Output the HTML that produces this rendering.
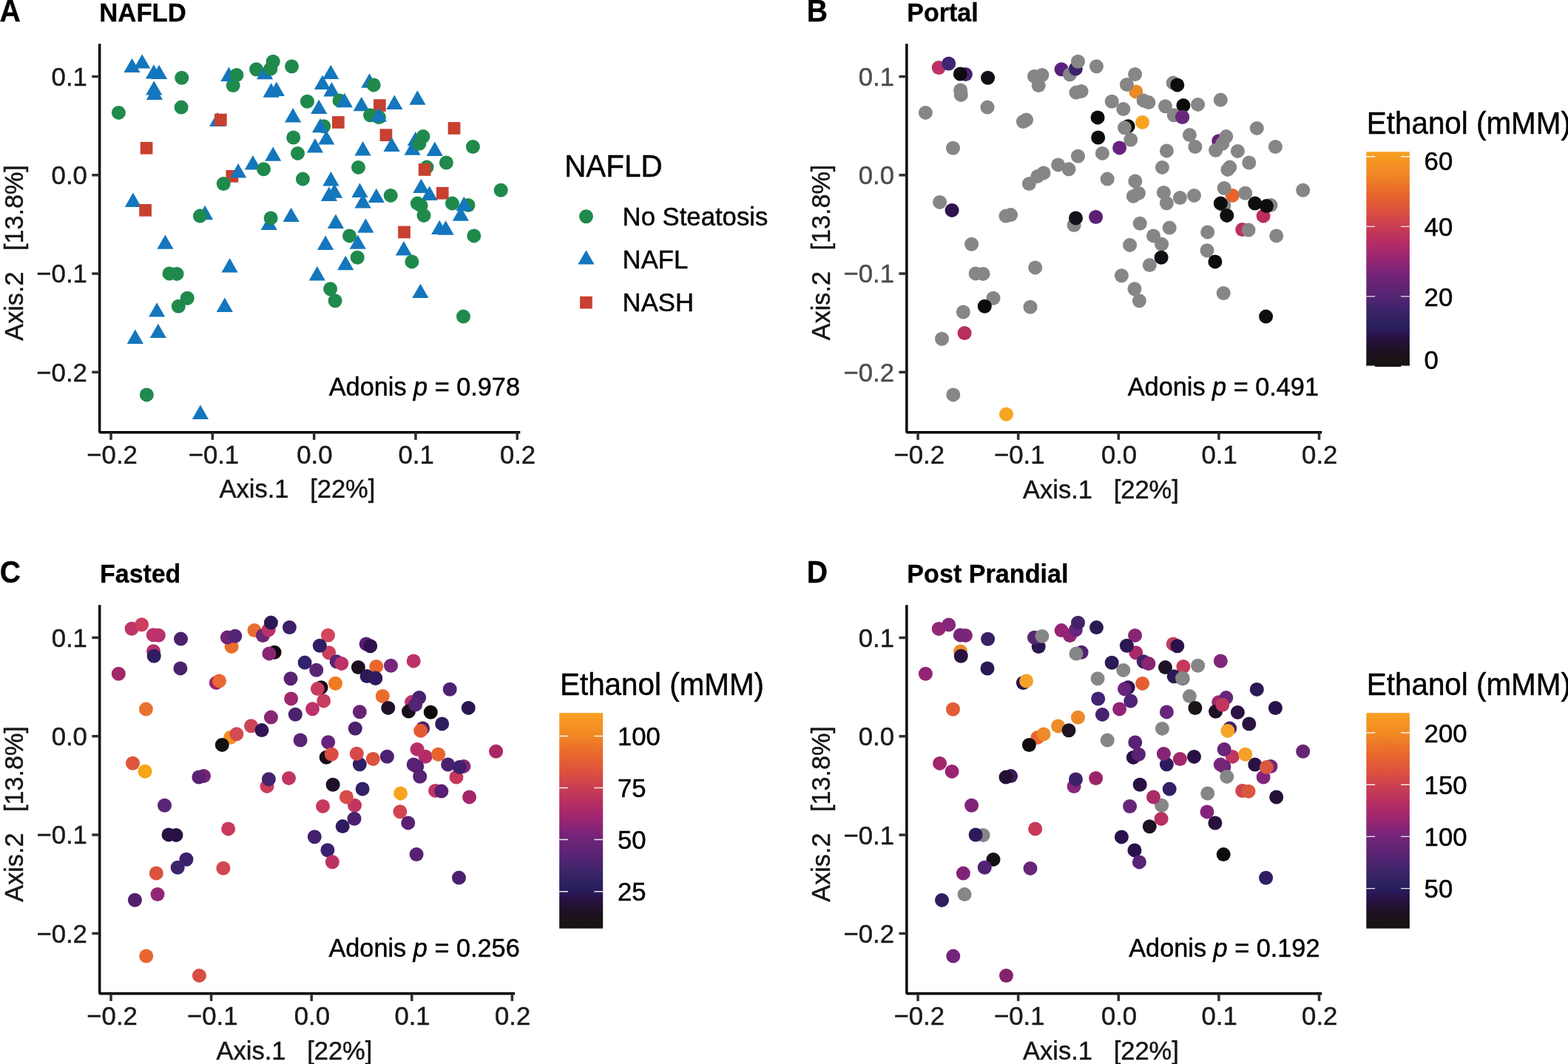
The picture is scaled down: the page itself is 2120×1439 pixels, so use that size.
<!DOCTYPE html>
<html lang="en">
<head>
<meta charset="utf-8">
<title>PCoA of ethanol concentrations and NAFLD status</title>
<style>
html,body{margin:0;padding:0;background:#fff;}
body{width:2120px;height:1439px;overflow:hidden;}
svg{display:block;}
text{font-family:"Liberation Sans","DejaVu Sans",sans-serif;}
</style>
</head>
<body>
<svg width="2120" height="1439" viewBox="0 0 2120 1439" font-family='"Liberation Sans", "DejaVu Sans", sans-serif'>
<defs><linearGradient id="inf" x1="0" y1="1" x2="0" y2="0">
<stop offset="0" stop-color="#151214"/>
<stop offset="0.041" stop-color="#1a1218"/>
<stop offset="0.085" stop-color="#1f1228"/>
<stop offset="0.137" stop-color="#2a1045"/>
<stop offset="0.17" stop-color="#2a1a58"/>
<stop offset="0.196" stop-color="#2a2060"/>
<stop offset="0.256" stop-color="#3a2468"/>
<stop offset="0.33" stop-color="#552472"/>
<stop offset="0.411" stop-color="#6e2478"/>
<stop offset="0.441" stop-color="#7a2478"/>
<stop offset="0.515" stop-color="#9e2670"/>
<stop offset="0.589" stop-color="#b82e62"/>
<stop offset="0.652" stop-color="#c83e52"/>
<stop offset="0.722" stop-color="#dc5040"/>
<stop offset="0.804" stop-color="#e8662c"/>
<stop offset="0.893" stop-color="#f08624"/>
<stop offset="1" stop-color="#f8a022"/>
</linearGradient></defs>
<rect width="2120" height="1439" fill="#fff"/>
<path d="M178.5 78.7 L189.6 98.1 H167.4 Z" fill="#1476bc"/>
<path d="M192.1 73.2 L203.2 92.6 H181.0 Z" fill="#1476bc"/>
<path d="M215.1 87.7 L226.2 107.1 H204.0 Z" fill="#1476bc"/>
<path d="M207.9 87.2 L219.0 106.6 H196.8 Z" fill="#1476bc"/>
<circle cx="245.7" cy="105.3" r="9.5" fill="#1f8a4c"/>
<path d="M208.2 109.2 L219.3 128.6 H197.1 Z" fill="#1476bc"/>
<path d="M208.9 115.6 L220.0 135.0 H197.8 Z" fill="#1476bc"/>
<circle cx="245.1" cy="145.1" r="9.5" fill="#1f8a4c"/>
<circle cx="160.4" cy="152.4" r="9.5" fill="#1f8a4c"/>
<circle cx="315.2" cy="115.6" r="9.5" fill="#1f8a4c"/>
<path d="M309.4 90.5 L320.5 109.9 H298.3 Z" fill="#1476bc"/>
<circle cx="319.9" cy="101.5" r="9.5" fill="#1f8a4c"/>
<circle cx="346.5" cy="93.7" r="9.5" fill="#1f8a4c"/>
<path d="M358.0 87.9 L369.1 107.3 H346.9 Z" fill="#1476bc"/>
<circle cx="365.9" cy="93.0" r="9.5" fill="#1f8a4c"/>
<circle cx="369.2" cy="83.3" r="9.5" fill="#1f8a4c"/>
<circle cx="394.5" cy="89.7" r="9.5" fill="#1f8a4c"/>
<path d="M373.8 110.6 L384.9 130.0 H362.7 Z" fill="#1476bc"/>
<path d="M366.6 112.3 L377.7 131.7 H355.5 Z" fill="#1476bc"/>
<circle cx="415.4" cy="137.3" r="9.5" fill="#1f8a4c"/>
<path d="M396.1 146.1 L407.2 165.5 H385.0 Z" fill="#1476bc"/>
<path d="M294.1 151.7 L305.2 171.1 H283.0 Z" fill="#1476bc"/>
<rect x="290.0" y="153.7" width="16.7" height="16.7" fill="#c8402f"/>
<circle cx="396.7" cy="186.0" r="9.5" fill="#1f8a4c"/>
<rect x="189.7" y="191.9" width="16.7" height="16.7" fill="#c8402f"/>
<path d="M369.2 198.4 L380.3 217.8 H358.1 Z" fill="#1476bc"/>
<circle cx="402.5" cy="207.4" r="9.5" fill="#1f8a4c"/>
<path d="M341.9 210.1 L353.0 229.5 H330.8 Z" fill="#1476bc"/>
<circle cx="356.5" cy="228.7" r="9.5" fill="#1f8a4c"/>
<rect x="305.5" y="230.0" width="16.7" height="16.7" fill="#c8402f"/>
<path d="M322.1 221.1 L333.2 240.5 H311.0 Z" fill="#1476bc"/>
<circle cx="302.2" cy="248.5" r="9.5" fill="#1f8a4c"/>
<circle cx="409.4" cy="242.1" r="9.5" fill="#1f8a4c"/>
<path d="M447.2 87.7 L458.3 107.1 H436.1 Z" fill="#1476bc"/>
<path d="M448.4 111.1 L459.5 130.5 H437.3 Z" fill="#1476bc"/>
<path d="M435.9 101.6 L447.0 121.0 H424.8 Z" fill="#1476bc"/>
<path d="M431.2 134.7 L442.3 154.1 H420.1 Z" fill="#1476bc"/>
<circle cx="459.0" cy="135.9" r="9.5" fill="#1f8a4c"/>
<path d="M465.8 125.8 L476.9 145.2 H454.7 Z" fill="#1476bc"/>
<rect x="449.0" y="157.1" width="16.7" height="16.7" fill="#c8402f"/>
<circle cx="437.7" cy="170.8" r="9.5" fill="#1f8a4c"/>
<path d="M433.0 159.9 L444.1 179.3 H421.9 Z" fill="#1476bc"/>
<path d="M441.3 176.2 L452.4 195.6 H430.2 Z" fill="#1476bc"/>
<path d="M426.0 187.1 L437.1 206.5 H414.9 Z" fill="#1476bc"/>
<path d="M499.5 99.3 L510.6 118.7 H488.4 Z" fill="#1476bc"/>
<circle cx="505.2" cy="114.9" r="9.5" fill="#1f8a4c"/>
<path d="M488.7 130.9 L499.8 150.3 H477.6 Z" fill="#1476bc"/>
<rect x="505.0" y="134.2" width="16.7" height="16.7" fill="#c8402f"/>
<path d="M533.3 128.6 L544.4 148.0 H522.2 Z" fill="#1476bc"/>
<path d="M564.4 122.3 L575.5 141.7 H553.3 Z" fill="#1476bc"/>
<circle cx="500.5" cy="155.8" r="9.5" fill="#1f8a4c"/>
<circle cx="512.4" cy="158.6" r="9.5" fill="#1f8a4c"/>
<path d="M511.9 145.4 L523.0 164.8 H500.8 Z" fill="#1476bc"/>
<rect x="513.6" y="174.3" width="16.7" height="16.7" fill="#c8402f"/>
<path d="M529.6 185.7 L540.7 205.1 H518.5 Z" fill="#1476bc"/>
<path d="M490.6 191.1 L501.7 210.5 H479.5 Z" fill="#1476bc"/>
<circle cx="484.5" cy="226.4" r="9.5" fill="#1f8a4c"/>
<path d="M561.8 177.9 L572.9 197.3 H550.7 Z" fill="#1476bc"/>
<path d="M557.6 190.4 L568.7 209.8 H546.5 Z" fill="#1476bc"/>
<circle cx="572.0" cy="184.6" r="9.5" fill="#1f8a4c"/>
<circle cx="566.9" cy="194.2" r="9.5" fill="#1f8a4c"/>
<path d="M587.8 191.6 L598.9 211.0 H576.7 Z" fill="#1476bc"/>
<rect x="605.7" y="165.1" width="16.7" height="16.7" fill="#c8402f"/>
<circle cx="639.4" cy="198.5" r="9.5" fill="#1f8a4c"/>
<circle cx="603.4" cy="220.0" r="9.5" fill="#1f8a4c"/>
<circle cx="577.0" cy="226.1" r="9.5" fill="#1f8a4c"/>
<rect x="565.8" y="221.1" width="16.7" height="16.7" fill="#c8402f"/>
<path d="M447.4 232.1 L458.5 251.5 H436.3 Z" fill="#1476bc"/>
<path d="M179.9 260.6 L191.0 280.0 H168.8 Z" fill="#1476bc"/>
<rect x="188.2" y="276.0" width="16.7" height="16.7" fill="#c8402f"/>
<path d="M277.1 277.8 L288.2 297.2 H266.0 Z" fill="#1476bc"/>
<circle cx="270.4" cy="292.1" r="9.5" fill="#1f8a4c"/>
<path d="M363.7 291.7 L374.8 311.1 H352.6 Z" fill="#1476bc"/>
<circle cx="366.1" cy="294.9" r="9.5" fill="#1f8a4c"/>
<path d="M393.6 280.7 L404.7 300.1 H382.5 Z" fill="#1476bc"/>
<path d="M223.4 317.4 L234.5 336.8 H212.3 Z" fill="#1476bc"/>
<path d="M310.6 349.1 L321.7 368.5 H299.5 Z" fill="#1476bc"/>
<circle cx="239.1" cy="370.4" r="9.5" fill="#1f8a4c"/>
<circle cx="229.0" cy="369.9" r="9.5" fill="#1f8a4c"/>
<circle cx="253.2" cy="403.3" r="9.5" fill="#1f8a4c"/>
<circle cx="241.3" cy="414.2" r="9.5" fill="#1f8a4c"/>
<path d="M212.1 409.2 L223.2 428.6 H201.0 Z" fill="#1476bc"/>
<path d="M303.8 402.5 L314.9 421.9 H292.7 Z" fill="#1476bc"/>
<path d="M444.9 252.6 L456.0 272.0 H433.8 Z" fill="#1476bc"/>
<path d="M452.1 248.4 L463.2 267.8 H441.0 Z" fill="#1476bc"/>
<path d="M490.6 262.0 L501.7 281.4 H479.5 Z" fill="#1476bc"/>
<path d="M486.5 247.6 L497.6 267.0 H475.4 Z" fill="#1476bc"/>
<path d="M508.8 254.7 L519.9 274.1 H497.7 Z" fill="#1476bc"/>
<circle cx="528.2" cy="264.4" r="9.5" fill="#1f8a4c"/>
<path d="M580.6 251.6 L591.7 271.0 H569.5 Z" fill="#1476bc"/>
<path d="M569.4 241.7 L580.5 261.1 H558.3 Z" fill="#1476bc"/>
<rect x="589.9" y="252.9" width="16.7" height="16.7" fill="#c8402f"/>
<circle cx="569.1" cy="277.9" r="9.5" fill="#1f8a4c"/>
<circle cx="564.4" cy="275.1" r="9.5" fill="#1f8a4c"/>
<circle cx="573.0" cy="291.4" r="9.5" fill="#1f8a4c"/>
<circle cx="611.5" cy="275.1" r="9.5" fill="#1f8a4c"/>
<circle cx="633.0" cy="277.5" r="9.5" fill="#1f8a4c"/>
<path d="M622.9 279.3 L634.0 298.7 H611.8 Z" fill="#1476bc"/>
<path d="M627.3 265.8 L638.4 285.2 H616.2 Z" fill="#1476bc"/>
<circle cx="677.2" cy="257.3" r="9.5" fill="#1f8a4c"/>
<path d="M453.9 289.5 L465.0 308.9 H442.8 Z" fill="#1476bc"/>
<path d="M494.4 295.3 L505.5 314.7 H483.3 Z" fill="#1476bc"/>
<path d="M483.7 317.4 L494.8 336.8 H472.6 Z" fill="#1476bc"/>
<circle cx="472.5" cy="318.9" r="9.5" fill="#1f8a4c"/>
<path d="M440.1 318.6 L451.2 338.0 H429.0 Z" fill="#1476bc"/>
<rect x="538.2" y="305.6" width="16.7" height="16.7" fill="#c8402f"/>
<path d="M594.2 297.7 L605.3 317.1 H583.1 Z" fill="#1476bc"/>
<path d="M602.6 298.3 L613.7 317.7 H591.5 Z" fill="#1476bc"/>
<circle cx="640.8" cy="318.9" r="9.5" fill="#1f8a4c"/>
<path d="M545.9 326.0 L557.0 345.4 H534.8 Z" fill="#1476bc"/>
<circle cx="556.9" cy="353.9" r="9.5" fill="#1f8a4c"/>
<circle cx="483.2" cy="348.3" r="9.5" fill="#1f8a4c"/>
<path d="M467.2 345.8 L478.3 365.2 H456.1 Z" fill="#1476bc"/>
<path d="M428.8 360.0 L439.9 379.4 H417.7 Z" fill="#1476bc"/>
<circle cx="446.6" cy="390.8" r="9.5" fill="#1f8a4c"/>
<circle cx="453.1" cy="406.8" r="9.5" fill="#1f8a4c"/>
<path d="M568.4 383.7 L579.5 403.1 H557.3 Z" fill="#1476bc"/>
<circle cx="626.5" cy="428.1" r="9.5" fill="#1f8a4c"/>
<path d="M213.8 437.7 L224.9 457.1 H202.7 Z" fill="#1476bc"/>
<path d="M182.8 445.5 L193.9 464.9 H171.7 Z" fill="#1476bc"/>
<circle cx="198.3" cy="533.9" r="9.5" fill="#1f8a4c"/>
<path d="M270.9 547.5 L282.0 566.9 H259.8 Z" fill="#1476bc"/>
<path d="M134.65 59.20 V584.65 M134.65 584.65 H703.30" fill="none" stroke="#000" stroke-width="3.45" stroke-linecap="butt"/>
<path d="M132.93 584.65 L134.65 586.38 L134.65 584.65 Z" fill="#000"/>
<line x1="124.25" y1="503.32" x2="134.65" y2="503.32" stroke="#2e2e2e" stroke-width="3.5"/>
<text transform="translate(117.85 515.72) scale(1 1.03)" font-size="34.7" text-anchor="end" font-weight="normal" fill="#1a1a1a" stroke="#1a1a1a" stroke-width="0.45">−0.2</text>
<line x1="124.25" y1="370.06" x2="134.65" y2="370.06" stroke="#2e2e2e" stroke-width="3.5"/>
<text transform="translate(117.85 382.46) scale(1 1.03)" font-size="34.7" text-anchor="end" font-weight="normal" fill="#1a1a1a" stroke="#1a1a1a" stroke-width="0.45">−0.1</text>
<line x1="124.25" y1="236.80" x2="134.65" y2="236.80" stroke="#2e2e2e" stroke-width="3.5"/>
<text transform="translate(117.85 249.20) scale(1 1.03)" font-size="34.7" text-anchor="end" font-weight="normal" fill="#1a1a1a" stroke="#1a1a1a" stroke-width="0.45">0.0</text>
<line x1="124.25" y1="103.54" x2="134.65" y2="103.54" stroke="#2e2e2e" stroke-width="3.5"/>
<text transform="translate(117.85 115.94) scale(1 1.03)" font-size="34.7" text-anchor="end" font-weight="normal" fill="#1a1a1a" stroke="#1a1a1a" stroke-width="0.45">0.1</text>
<line x1="150.00" y1="584.65" x2="150.00" y2="594.85" stroke="#2e2e2e" stroke-width="3.5"/>
<text transform="translate(151.60 627.10) scale(1 1.03)" font-size="34.7" text-anchor="middle" font-weight="normal" fill="#1a1a1a" stroke="#1a1a1a" stroke-width="0.45">−0.2</text>
<line x1="287.32" y1="584.65" x2="287.32" y2="594.85" stroke="#2e2e2e" stroke-width="3.5"/>
<text transform="translate(288.92 627.10) scale(1 1.03)" font-size="34.7" text-anchor="middle" font-weight="normal" fill="#1a1a1a" stroke="#1a1a1a" stroke-width="0.45">−0.1</text>
<line x1="424.65" y1="584.65" x2="424.65" y2="594.85" stroke="#2e2e2e" stroke-width="3.5"/>
<text transform="translate(425.35 627.10) scale(1 1.03)" font-size="34.7" text-anchor="middle" font-weight="normal" fill="#1a1a1a" stroke="#1a1a1a" stroke-width="0.45">0.0</text>
<line x1="561.98" y1="584.65" x2="561.98" y2="594.85" stroke="#2e2e2e" stroke-width="3.5"/>
<text transform="translate(562.68 627.10) scale(1 1.03)" font-size="34.7" text-anchor="middle" font-weight="normal" fill="#1a1a1a" stroke="#1a1a1a" stroke-width="0.45">0.1</text>
<line x1="699.30" y1="584.65" x2="699.30" y2="594.85" stroke="#2e2e2e" stroke-width="3.5"/>
<text transform="translate(700.00 627.10) scale(1 1.03)" font-size="34.7" text-anchor="middle" font-weight="normal" fill="#1a1a1a" stroke="#1a1a1a" stroke-width="0.45">0.2</text>
<circle cx="1269.2" cy="91.5" r="9.5" fill="#ba3168"/>
<circle cx="1282.7" cy="86.0" r="9.5" fill="#3f2672"/>
<circle cx="1305.4" cy="100.5" r="9.5" fill="#49236d"/>
<circle cx="1298.3" cy="100.0" r="9.5" fill="#0d0b10"/>
<circle cx="1335.6" cy="105.3" r="9.5" fill="#121016"/>
<circle cx="1298.6" cy="122.0" r="9.5" fill="#868686"/>
<circle cx="1299.3" cy="128.4" r="9.5" fill="#868686"/>
<circle cx="1335.0" cy="145.1" r="9.5" fill="#868686"/>
<circle cx="1251.4" cy="152.4" r="9.5" fill="#868686"/>
<circle cx="1404.2" cy="115.6" r="9.5" fill="#868686"/>
<circle cx="1398.5" cy="103.3" r="9.5" fill="#868686"/>
<circle cx="1408.9" cy="101.5" r="9.5" fill="#868686"/>
<circle cx="1435.1" cy="93.7" r="9.5" fill="#58217d"/>
<circle cx="1446.5" cy="100.7" r="9.5" fill="#868686"/>
<circle cx="1454.3" cy="93.0" r="9.5" fill="#3a236d"/>
<circle cx="1457.5" cy="83.3" r="9.5" fill="#868686"/>
<circle cx="1482.5" cy="89.7" r="9.5" fill="#868686"/>
<circle cx="1462.1" cy="123.4" r="9.5" fill="#868686"/>
<circle cx="1455.0" cy="125.1" r="9.5" fill="#868686"/>
<circle cx="1503.2" cy="137.3" r="9.5" fill="#868686"/>
<circle cx="1484.1" cy="158.9" r="9.5" fill="#0a0a0a"/>
<circle cx="1383.4" cy="164.5" r="9.5" fill="#868686"/>
<circle cx="1387.6" cy="162.1" r="9.5" fill="#868686"/>
<circle cx="1484.7" cy="186.0" r="9.5" fill="#0c0c0c"/>
<circle cx="1288.5" cy="200.2" r="9.5" fill="#868686"/>
<circle cx="1457.5" cy="211.2" r="9.5" fill="#868686"/>
<circle cx="1490.4" cy="207.4" r="9.5" fill="#868686"/>
<circle cx="1430.6" cy="222.9" r="9.5" fill="#868686"/>
<circle cx="1445.0" cy="228.7" r="9.5" fill="#868686"/>
<circle cx="1402.9" cy="238.4" r="9.5" fill="#868686"/>
<circle cx="1411.0" cy="233.9" r="9.5" fill="#868686"/>
<circle cx="1391.4" cy="248.5" r="9.5" fill="#868686"/>
<circle cx="1497.2" cy="242.1" r="9.5" fill="#868686"/>
<circle cx="1534.6" cy="100.5" r="9.5" fill="#868686"/>
<circle cx="1535.8" cy="123.9" r="9.5" fill="#ec8b26"/>
<circle cx="1523.4" cy="114.4" r="9.5" fill="#868686"/>
<circle cx="1518.8" cy="147.5" r="9.5" fill="#868686"/>
<circle cx="1546.2" cy="135.9" r="9.5" fill="#868686"/>
<circle cx="1552.9" cy="138.6" r="9.5" fill="#868686"/>
<circle cx="1544.6" cy="165.4" r="9.5" fill="#f7a423"/>
<circle cx="1525.2" cy="170.8" r="9.5" fill="#0c0c0c"/>
<circle cx="1520.5" cy="172.7" r="9.5" fill="#868686"/>
<circle cx="1528.7" cy="189.0" r="9.5" fill="#868686"/>
<circle cx="1513.6" cy="199.9" r="9.5" fill="#68227d"/>
<circle cx="1586.2" cy="112.1" r="9.5" fill="#868686"/>
<circle cx="1591.8" cy="114.9" r="9.5" fill="#0c0c0c"/>
<circle cx="1575.5" cy="143.7" r="9.5" fill="#868686"/>
<circle cx="1599.9" cy="142.6" r="9.5" fill="#0a0a0a"/>
<circle cx="1619.6" cy="141.4" r="9.5" fill="#868686"/>
<circle cx="1650.3" cy="135.1" r="9.5" fill="#868686"/>
<circle cx="1587.2" cy="155.8" r="9.5" fill="#868686"/>
<circle cx="1598.9" cy="158.6" r="9.5" fill="#868686"/>
<circle cx="1598.5" cy="158.2" r="9.5" fill="#68267d"/>
<circle cx="1608.4" cy="182.6" r="9.5" fill="#868686"/>
<circle cx="1615.9" cy="198.5" r="9.5" fill="#868686"/>
<circle cx="1577.4" cy="203.9" r="9.5" fill="#868686"/>
<circle cx="1571.4" cy="226.4" r="9.5" fill="#868686"/>
<circle cx="1647.7" cy="190.7" r="9.5" fill="#68227d"/>
<circle cx="1643.6" cy="203.2" r="9.5" fill="#868686"/>
<circle cx="1657.8" cy="184.6" r="9.5" fill="#868686"/>
<circle cx="1652.8" cy="194.2" r="9.5" fill="#868686"/>
<circle cx="1673.4" cy="204.4" r="9.5" fill="#868686"/>
<circle cx="1699.3" cy="173.4" r="9.5" fill="#868686"/>
<circle cx="1724.4" cy="198.5" r="9.5" fill="#868686"/>
<circle cx="1688.8" cy="220.0" r="9.5" fill="#868686"/>
<circle cx="1662.7" cy="226.1" r="9.5" fill="#868686"/>
<circle cx="1659.9" cy="229.4" r="9.5" fill="#868686"/>
<circle cx="1534.8" cy="244.9" r="9.5" fill="#868686"/>
<circle cx="1270.6" cy="273.4" r="9.5" fill="#868686"/>
<circle cx="1287.1" cy="284.4" r="9.5" fill="#2e114e"/>
<circle cx="1366.6" cy="290.6" r="9.5" fill="#868686"/>
<circle cx="1360.0" cy="292.1" r="9.5" fill="#868686"/>
<circle cx="1452.1" cy="304.5" r="9.5" fill="#868686"/>
<circle cx="1454.5" cy="294.9" r="9.5" fill="#14121a"/>
<circle cx="1481.6" cy="293.5" r="9.5" fill="#5a2175"/>
<circle cx="1313.6" cy="330.2" r="9.5" fill="#868686"/>
<circle cx="1399.7" cy="361.9" r="9.5" fill="#868686"/>
<circle cx="1329.1" cy="370.4" r="9.5" fill="#868686"/>
<circle cx="1319.1" cy="369.9" r="9.5" fill="#868686"/>
<circle cx="1343.0" cy="403.3" r="9.5" fill="#868686"/>
<circle cx="1331.3" cy="414.2" r="9.5" fill="#0a0a0a"/>
<circle cx="1302.4" cy="422.0" r="9.5" fill="#868686"/>
<circle cx="1393.0" cy="415.3" r="9.5" fill="#868686"/>
<circle cx="1532.3" cy="265.4" r="9.5" fill="#868686"/>
<circle cx="1539.4" cy="261.2" r="9.5" fill="#868686"/>
<circle cx="1577.4" cy="274.8" r="9.5" fill="#868686"/>
<circle cx="1573.4" cy="260.4" r="9.5" fill="#868686"/>
<circle cx="1595.4" cy="267.5" r="9.5" fill="#868686"/>
<circle cx="1614.5" cy="264.4" r="9.5" fill="#868686"/>
<circle cx="1666.3" cy="264.4" r="9.5" fill="#e9642d"/>
<circle cx="1655.2" cy="254.5" r="9.5" fill="#868686"/>
<circle cx="1683.7" cy="261.3" r="9.5" fill="#868686"/>
<circle cx="1654.9" cy="277.9" r="9.5" fill="#868686"/>
<circle cx="1650.3" cy="275.1" r="9.5" fill="#0c0c0c"/>
<circle cx="1658.8" cy="291.4" r="9.5" fill="#0e0e10"/>
<circle cx="1696.8" cy="275.1" r="9.5" fill="#0e0e10"/>
<circle cx="1718.0" cy="277.5" r="9.5" fill="#868686"/>
<circle cx="1708.1" cy="292.1" r="9.5" fill="#bb2d62"/>
<circle cx="1712.4" cy="278.6" r="9.5" fill="#0c0c0e"/>
<circle cx="1761.7" cy="257.3" r="9.5" fill="#868686"/>
<circle cx="1541.2" cy="302.3" r="9.5" fill="#868686"/>
<circle cx="1581.2" cy="308.1" r="9.5" fill="#868686"/>
<circle cx="1570.6" cy="330.2" r="9.5" fill="#868686"/>
<circle cx="1559.5" cy="318.9" r="9.5" fill="#868686"/>
<circle cx="1527.6" cy="331.4" r="9.5" fill="#868686"/>
<circle cx="1632.7" cy="313.9" r="9.5" fill="#868686"/>
<circle cx="1679.7" cy="310.5" r="9.5" fill="#bf2f5c"/>
<circle cx="1688.0" cy="311.1" r="9.5" fill="#868686"/>
<circle cx="1725.7" cy="318.9" r="9.5" fill="#868686"/>
<circle cx="1632.0" cy="338.8" r="9.5" fill="#868686"/>
<circle cx="1642.9" cy="353.9" r="9.5" fill="#0c0c0e"/>
<circle cx="1570.1" cy="348.3" r="9.5" fill="#121014"/>
<circle cx="1554.3" cy="358.6" r="9.5" fill="#868686"/>
<circle cx="1516.4" cy="372.8" r="9.5" fill="#868686"/>
<circle cx="1534.0" cy="390.8" r="9.5" fill="#868686"/>
<circle cx="1540.4" cy="406.8" r="9.5" fill="#868686"/>
<circle cx="1654.2" cy="396.5" r="9.5" fill="#868686"/>
<circle cx="1711.6" cy="428.1" r="9.5" fill="#0e0e12"/>
<circle cx="1304.1" cy="450.5" r="9.5" fill="#b92e5e"/>
<circle cx="1273.5" cy="458.3" r="9.5" fill="#868686"/>
<circle cx="1288.8" cy="533.9" r="9.5" fill="#868686"/>
<circle cx="1360.5" cy="560.3" r="9.5" fill="#f7a523"/>
<path d="M1225.86 59.20 V584.65 M1225.86 584.65 H1787.20" fill="none" stroke="#000" stroke-width="3.45" stroke-linecap="butt"/>
<path d="M1224.13 584.65 L1225.86 586.38 L1225.86 584.65 Z" fill="#000"/>
<line x1="1215.46" y1="503.32" x2="1225.86" y2="503.32" stroke="#2e2e2e" stroke-width="3.5"/>
<text transform="translate(1209.06 515.72) scale(1 1.03)" font-size="34.7" text-anchor="end" font-weight="normal" fill="#4d4d4d" stroke="#4d4d4d" stroke-width="0.45">−0.2</text>
<line x1="1215.46" y1="370.06" x2="1225.86" y2="370.06" stroke="#2e2e2e" stroke-width="3.5"/>
<text transform="translate(1209.06 382.46) scale(1 1.03)" font-size="34.7" text-anchor="end" font-weight="normal" fill="#4d4d4d" stroke="#4d4d4d" stroke-width="0.45">−0.1</text>
<line x1="1215.46" y1="236.80" x2="1225.86" y2="236.80" stroke="#2e2e2e" stroke-width="3.5"/>
<text transform="translate(1209.06 249.20) scale(1 1.03)" font-size="34.7" text-anchor="end" font-weight="normal" fill="#4d4d4d" stroke="#4d4d4d" stroke-width="0.45">0.0</text>
<line x1="1215.46" y1="103.54" x2="1225.86" y2="103.54" stroke="#2e2e2e" stroke-width="3.5"/>
<text transform="translate(1209.06 115.94) scale(1 1.03)" font-size="34.7" text-anchor="end" font-weight="normal" fill="#4d4d4d" stroke="#4d4d4d" stroke-width="0.45">0.1</text>
<line x1="1241.08" y1="584.65" x2="1241.08" y2="594.85" stroke="#2e2e2e" stroke-width="3.5"/>
<text transform="translate(1242.68 627.10) scale(1 1.03)" font-size="34.7" text-anchor="middle" font-weight="normal" fill="#1a1a1a" stroke="#1a1a1a" stroke-width="0.45">−0.2</text>
<line x1="1376.69" y1="584.65" x2="1376.69" y2="594.85" stroke="#2e2e2e" stroke-width="3.5"/>
<text transform="translate(1378.29 627.10) scale(1 1.03)" font-size="34.7" text-anchor="middle" font-weight="normal" fill="#1a1a1a" stroke="#1a1a1a" stroke-width="0.45">−0.1</text>
<line x1="1512.30" y1="584.65" x2="1512.30" y2="594.85" stroke="#2e2e2e" stroke-width="3.5"/>
<text transform="translate(1513.00 627.10) scale(1 1.03)" font-size="34.7" text-anchor="middle" font-weight="normal" fill="#1a1a1a" stroke="#1a1a1a" stroke-width="0.45">0.0</text>
<line x1="1647.91" y1="584.65" x2="1647.91" y2="594.85" stroke="#2e2e2e" stroke-width="3.5"/>
<text transform="translate(1648.61 627.10) scale(1 1.03)" font-size="34.7" text-anchor="middle" font-weight="normal" fill="#1a1a1a" stroke="#1a1a1a" stroke-width="0.45">0.1</text>
<line x1="1783.52" y1="584.65" x2="1783.52" y2="594.85" stroke="#2e2e2e" stroke-width="3.5"/>
<text transform="translate(1784.22 627.10) scale(1 1.03)" font-size="34.7" text-anchor="middle" font-weight="normal" fill="#1a1a1a" stroke="#1a1a1a" stroke-width="0.45">0.2</text>
<circle cx="178.1" cy="850.3" r="9.5" fill="#bd356a"/>
<circle cx="191.6" cy="844.8" r="9.5" fill="#cb3e5d"/>
<circle cx="214.3" cy="859.3" r="9.5" fill="#b8306d"/>
<circle cx="207.2" cy="858.8" r="9.5" fill="#bd336c"/>
<circle cx="244.5" cy="864.1" r="9.5" fill="#49226d"/>
<circle cx="207.5" cy="880.8" r="9.5" fill="#b4306d"/>
<circle cx="208.2" cy="887.2" r="9.5" fill="#2f1d60"/>
<circle cx="243.9" cy="903.9" r="9.5" fill="#49226d"/>
<circle cx="160.3" cy="911.2" r="9.5" fill="#a42768"/>
<circle cx="313.1" cy="874.4" r="9.5" fill="#e96d2a"/>
<circle cx="307.4" cy="862.1" r="9.5" fill="#6c2375"/>
<circle cx="317.8" cy="860.3" r="9.5" fill="#542477"/>
<circle cx="344.0" cy="852.5" r="9.5" fill="#e96c31"/>
<circle cx="355.4" cy="859.5" r="9.5" fill="#6a2775"/>
<circle cx="363.2" cy="851.8" r="9.5" fill="#bb326a"/>
<circle cx="366.4" cy="842.1" r="9.5" fill="#2a1955"/>
<circle cx="391.4" cy="848.5" r="9.5" fill="#3e2069"/>
<circle cx="371.0" cy="882.2" r="9.5" fill="#150810"/>
<circle cx="363.9" cy="883.9" r="9.5" fill="#872575"/>
<circle cx="412.1" cy="896.1" r="9.5" fill="#33216d"/>
<circle cx="393.0" cy="917.7" r="9.5" fill="#582372"/>
<circle cx="292.3" cy="923.4" r="9.5" fill="#96286e"/>
<circle cx="296.5" cy="920.9" r="9.5" fill="#e96834"/>
<circle cx="393.6" cy="944.9" r="9.5" fill="#a0286e"/>
<circle cx="197.4" cy="959.1" r="9.5" fill="#e97231"/>
<circle cx="366.4" cy="970.1" r="9.5" fill="#892776"/>
<circle cx="399.3" cy="966.3" r="9.5" fill="#4b226d"/>
<circle cx="339.5" cy="981.8" r="9.5" fill="#ca4459"/>
<circle cx="353.9" cy="987.6" r="9.5" fill="#311555"/>
<circle cx="311.8" cy="997.3" r="9.5" fill="#f1911f"/>
<circle cx="319.9" cy="992.8" r="9.5" fill="#d14c52"/>
<circle cx="300.3" cy="1007.4" r="9.5" fill="#121010"/>
<circle cx="406.1" cy="1001.0" r="9.5" fill="#592475"/>
<circle cx="443.5" cy="859.3" r="9.5" fill="#d3465b"/>
<circle cx="444.7" cy="882.7" r="9.5" fill="#cb3f5d"/>
<circle cx="432.3" cy="873.2" r="9.5" fill="#2f1e63"/>
<circle cx="427.7" cy="906.3" r="9.5" fill="#5a2475"/>
<circle cx="455.1" cy="894.7" r="9.5" fill="#592475"/>
<circle cx="461.8" cy="897.4" r="9.5" fill="#bd3068"/>
<circle cx="453.5" cy="924.3" r="9.5" fill="#ef7c22"/>
<circle cx="434.1" cy="929.7" r="9.5" fill="#150810"/>
<circle cx="429.4" cy="931.6" r="9.5" fill="#c73c5f"/>
<circle cx="437.6" cy="947.9" r="9.5" fill="#c73c5f"/>
<circle cx="422.5" cy="958.8" r="9.5" fill="#bb326a"/>
<circle cx="495.1" cy="870.9" r="9.5" fill="#581e6f"/>
<circle cx="500.7" cy="873.7" r="9.5" fill="#2e124e"/>
<circle cx="484.4" cy="902.5" r="9.5" fill="#1f1020"/>
<circle cx="508.8" cy="901.4" r="9.5" fill="#e9662d"/>
<circle cx="528.5" cy="900.2" r="9.5" fill="#77257d"/>
<circle cx="559.2" cy="893.9" r="9.5" fill="#bd3268"/>
<circle cx="496.1" cy="914.6" r="9.5" fill="#2b1955"/>
<circle cx="507.8" cy="917.4" r="9.5" fill="#301b5f"/>
<circle cx="507.4" cy="917.0" r="9.5" fill="#301b5f"/>
<circle cx="517.3" cy="941.5" r="9.5" fill="#e96c2a"/>
<circle cx="524.8" cy="957.4" r="9.5" fill="#1f1027"/>
<circle cx="486.3" cy="962.8" r="9.5" fill="#682375"/>
<circle cx="480.3" cy="985.3" r="9.5" fill="#49216d"/>
<circle cx="556.6" cy="949.6" r="9.5" fill="#bb326a"/>
<circle cx="552.5" cy="962.1" r="9.5" fill="#1a0f1c"/>
<circle cx="566.7" cy="943.5" r="9.5" fill="#492372"/>
<circle cx="561.7" cy="953.1" r="9.5" fill="#542575"/>
<circle cx="582.3" cy="963.3" r="9.5" fill="#0f0a08"/>
<circle cx="608.2" cy="932.3" r="9.5" fill="#4d2375"/>
<circle cx="633.3" cy="957.4" r="9.5" fill="#2a1652"/>
<circle cx="597.7" cy="978.9" r="9.5" fill="#301d5f"/>
<circle cx="571.6" cy="985.0" r="9.5" fill="#49216d"/>
<circle cx="568.8" cy="988.3" r="9.5" fill="#e35a32"/>
<circle cx="443.7" cy="1003.8" r="9.5" fill="#68227d"/>
<circle cx="179.5" cy="1032.3" r="9.5" fill="#dd563b"/>
<circle cx="196.0" cy="1043.3" r="9.5" fill="#f8a517"/>
<circle cx="275.5" cy="1049.5" r="9.5" fill="#772475"/>
<circle cx="268.9" cy="1051.0" r="9.5" fill="#5a2175"/>
<circle cx="361.0" cy="1063.4" r="9.5" fill="#cb3c59"/>
<circle cx="363.4" cy="1053.8" r="9.5" fill="#44236c"/>
<circle cx="390.5" cy="1052.4" r="9.5" fill="#c33560"/>
<circle cx="222.5" cy="1089.2" r="9.5" fill="#5a2475"/>
<circle cx="308.6" cy="1120.9" r="9.5" fill="#cb385d"/>
<circle cx="238.0" cy="1129.4" r="9.5" fill="#291143"/>
<circle cx="228.0" cy="1128.9" r="9.5" fill="#291146"/>
<circle cx="251.9" cy="1162.3" r="9.5" fill="#3a216d"/>
<circle cx="240.2" cy="1173.2" r="9.5" fill="#3f216c"/>
<circle cx="211.3" cy="1181.0" r="9.5" fill="#db523f"/>
<circle cx="301.9" cy="1174.3" r="9.5" fill="#d34652"/>
<circle cx="441.2" cy="1024.3" r="9.5" fill="#1a0c1b"/>
<circle cx="448.3" cy="1020.1" r="9.5" fill="#db4c45"/>
<circle cx="486.3" cy="1033.7" r="9.5" fill="#2f1e65"/>
<circle cx="482.3" cy="1019.3" r="9.5" fill="#d74a4a"/>
<circle cx="504.3" cy="1026.4" r="9.5" fill="#dd543d"/>
<circle cx="523.4" cy="1023.3" r="9.5" fill="#4d2172"/>
<circle cx="575.2" cy="1023.3" r="9.5" fill="#b32c67"/>
<circle cx="564.1" cy="1013.4" r="9.5" fill="#b82f68"/>
<circle cx="592.6" cy="1020.2" r="9.5" fill="#e7642d"/>
<circle cx="563.8" cy="1036.8" r="9.5" fill="#4e2375"/>
<circle cx="559.2" cy="1034.0" r="9.5" fill="#582175"/>
<circle cx="567.7" cy="1050.3" r="9.5" fill="#582175"/>
<circle cx="605.7" cy="1034.0" r="9.5" fill="#49216d"/>
<circle cx="626.9" cy="1036.4" r="9.5" fill="#872676"/>
<circle cx="617.0" cy="1051.0" r="9.5" fill="#c73759"/>
<circle cx="621.3" cy="1037.5" r="9.5" fill="#3e216d"/>
<circle cx="670.6" cy="1016.2" r="9.5" fill="#aa2867"/>
<circle cx="450.1" cy="1061.2" r="9.5" fill="#1f0f29"/>
<circle cx="490.1" cy="1067.0" r="9.5" fill="#332167"/>
<circle cx="479.5" cy="1089.2" r="9.5" fill="#c13660"/>
<circle cx="468.4" cy="1077.9" r="9.5" fill="#d74c4a"/>
<circle cx="436.5" cy="1090.4" r="9.5" fill="#c73a60"/>
<circle cx="541.6" cy="1072.9" r="9.5" fill="#f7a520"/>
<circle cx="588.6" cy="1069.4" r="9.5" fill="#c33560"/>
<circle cx="596.9" cy="1070.1" r="9.5" fill="#582175"/>
<circle cx="634.6" cy="1077.9" r="9.5" fill="#a4266b"/>
<circle cx="540.9" cy="1097.8" r="9.5" fill="#d14450"/>
<circle cx="551.8" cy="1112.9" r="9.5" fill="#5a2172"/>
<circle cx="479.0" cy="1107.3" r="9.5" fill="#4b216d"/>
<circle cx="463.2" cy="1117.6" r="9.5" fill="#2f1b5f"/>
<circle cx="425.3" cy="1131.8" r="9.5" fill="#44216c"/>
<circle cx="442.9" cy="1149.8" r="9.5" fill="#3a216d"/>
<circle cx="449.3" cy="1165.8" r="9.5" fill="#bd3062"/>
<circle cx="563.1" cy="1155.5" r="9.5" fill="#582172"/>
<circle cx="620.5" cy="1187.1" r="9.5" fill="#4b216d"/>
<circle cx="213.0" cy="1209.5" r="9.5" fill="#922676"/>
<circle cx="182.4" cy="1217.3" r="9.5" fill="#51216c"/>
<circle cx="197.7" cy="1293.0" r="9.5" fill="#e9662d"/>
<circle cx="269.4" cy="1319.4" r="9.5" fill="#d74c43"/>
<path d="M134.70 818.30 V1343.70 M134.70 1343.70 H696.10" fill="none" stroke="#000" stroke-width="3.45" stroke-linecap="butt"/>
<path d="M132.97 1343.70 L134.70 1345.42 L134.70 1343.70 Z" fill="#000"/>
<line x1="124.30" y1="1262.40" x2="134.70" y2="1262.40" stroke="#2e2e2e" stroke-width="3.5"/>
<text transform="translate(117.90 1274.80) scale(1 1.03)" font-size="34.7" text-anchor="end" font-weight="normal" fill="#1a1a1a" stroke="#1a1a1a" stroke-width="0.45">−0.2</text>
<line x1="124.30" y1="1129.05" x2="134.70" y2="1129.05" stroke="#2e2e2e" stroke-width="3.5"/>
<text transform="translate(117.90 1141.45) scale(1 1.03)" font-size="34.7" text-anchor="end" font-weight="normal" fill="#1a1a1a" stroke="#1a1a1a" stroke-width="0.45">−0.1</text>
<line x1="124.30" y1="995.70" x2="134.70" y2="995.70" stroke="#2e2e2e" stroke-width="3.5"/>
<text transform="translate(117.90 1008.10) scale(1 1.03)" font-size="34.7" text-anchor="end" font-weight="normal" fill="#1a1a1a" stroke="#1a1a1a" stroke-width="0.45">0.0</text>
<line x1="124.30" y1="862.35" x2="134.70" y2="862.35" stroke="#2e2e2e" stroke-width="3.5"/>
<text transform="translate(117.90 874.75) scale(1 1.03)" font-size="34.7" text-anchor="end" font-weight="normal" fill="#1a1a1a" stroke="#1a1a1a" stroke-width="0.45">0.1</text>
<line x1="150.00" y1="1343.70" x2="150.00" y2="1353.90" stroke="#2e2e2e" stroke-width="3.5"/>
<text transform="translate(151.60 1386.15) scale(1 1.03)" font-size="34.7" text-anchor="middle" font-weight="normal" fill="#1a1a1a" stroke="#1a1a1a" stroke-width="0.45">−0.2</text>
<line x1="285.60" y1="1343.70" x2="285.60" y2="1353.90" stroke="#2e2e2e" stroke-width="3.5"/>
<text transform="translate(287.20 1386.15) scale(1 1.03)" font-size="34.7" text-anchor="middle" font-weight="normal" fill="#1a1a1a" stroke="#1a1a1a" stroke-width="0.45">−0.1</text>
<line x1="421.20" y1="1343.70" x2="421.20" y2="1353.90" stroke="#2e2e2e" stroke-width="3.5"/>
<text transform="translate(421.90 1386.15) scale(1 1.03)" font-size="34.7" text-anchor="middle" font-weight="normal" fill="#1a1a1a" stroke="#1a1a1a" stroke-width="0.45">0.0</text>
<line x1="556.80" y1="1343.70" x2="556.80" y2="1353.90" stroke="#2e2e2e" stroke-width="3.5"/>
<text transform="translate(557.50 1386.15) scale(1 1.03)" font-size="34.7" text-anchor="middle" font-weight="normal" fill="#1a1a1a" stroke="#1a1a1a" stroke-width="0.45">0.1</text>
<line x1="692.40" y1="1343.70" x2="692.40" y2="1353.90" stroke="#2e2e2e" stroke-width="3.5"/>
<text transform="translate(693.10 1386.15) scale(1 1.03)" font-size="34.7" text-anchor="middle" font-weight="normal" fill="#1a1a1a" stroke="#1a1a1a" stroke-width="0.45">0.2</text>
<circle cx="1269.2" cy="850.4" r="9.5" fill="#942775"/>
<circle cx="1282.7" cy="844.9" r="9.5" fill="#85277c"/>
<circle cx="1305.4" cy="859.4" r="9.5" fill="#802678"/>
<circle cx="1298.3" cy="858.9" r="9.5" fill="#76257b"/>
<circle cx="1335.6" cy="864.2" r="9.5" fill="#392163"/>
<circle cx="1298.6" cy="880.9" r="9.5" fill="#eb8c28"/>
<circle cx="1299.3" cy="887.3" r="9.5" fill="#2b1142"/>
<circle cx="1335.0" cy="904.0" r="9.5" fill="#2a1954"/>
<circle cx="1251.4" cy="911.3" r="9.5" fill="#922475"/>
<circle cx="1404.2" cy="874.5" r="9.5" fill="#2b1651"/>
<circle cx="1398.5" cy="862.2" r="9.5" fill="#582671"/>
<circle cx="1408.9" cy="860.4" r="9.5" fill="#868686"/>
<circle cx="1435.1" cy="852.6" r="9.5" fill="#962475"/>
<circle cx="1446.5" cy="859.6" r="9.5" fill="#922475"/>
<circle cx="1454.3" cy="851.9" r="9.5" fill="#67257b"/>
<circle cx="1457.5" cy="842.2" r="9.5" fill="#44226a"/>
<circle cx="1482.5" cy="848.6" r="9.5" fill="#2b1954"/>
<circle cx="1462.1" cy="882.3" r="9.5" fill="#502275"/>
<circle cx="1455.0" cy="884.0" r="9.5" fill="#868686"/>
<circle cx="1503.2" cy="896.2" r="9.5" fill="#2a1954"/>
<circle cx="1484.1" cy="917.8" r="9.5" fill="#868686"/>
<circle cx="1383.4" cy="923.5" r="9.5" fill="#2b114c"/>
<circle cx="1387.6" cy="921.0" r="9.5" fill="#f5a328"/>
<circle cx="1484.7" cy="945.0" r="9.5" fill="#442274"/>
<circle cx="1288.5" cy="959.2" r="9.5" fill="#e25d36"/>
<circle cx="1457.5" cy="970.2" r="9.5" fill="#ee8929"/>
<circle cx="1490.4" cy="966.4" r="9.5" fill="#482270"/>
<circle cx="1430.6" cy="981.9" r="9.5" fill="#eb8d28"/>
<circle cx="1445.0" cy="987.7" r="9.5" fill="#1f1423"/>
<circle cx="1402.9" cy="997.4" r="9.5" fill="#e86531"/>
<circle cx="1411.0" cy="992.9" r="9.5" fill="#ee8a29"/>
<circle cx="1391.4" cy="1007.5" r="9.5" fill="#0e0c0e"/>
<circle cx="1497.2" cy="1001.1" r="9.5" fill="#868686"/>
<circle cx="1534.6" cy="859.4" r="9.5" fill="#852774"/>
<circle cx="1535.8" cy="882.8" r="9.5" fill="#a92867"/>
<circle cx="1523.4" cy="873.3" r="9.5" fill="#2b1954"/>
<circle cx="1518.8" cy="906.4" r="9.5" fill="#868686"/>
<circle cx="1546.2" cy="894.8" r="9.5" fill="#44226a"/>
<circle cx="1552.9" cy="897.5" r="9.5" fill="#892372"/>
<circle cx="1544.6" cy="924.4" r="9.5" fill="#e55d33"/>
<circle cx="1525.2" cy="929.8" r="9.5" fill="#2b114c"/>
<circle cx="1520.5" cy="931.7" r="9.5" fill="#67257b"/>
<circle cx="1528.7" cy="948.0" r="9.5" fill="#502275"/>
<circle cx="1513.6" cy="958.9" r="9.5" fill="#922475"/>
<circle cx="1586.2" cy="871.0" r="9.5" fill="#c43e5b"/>
<circle cx="1591.8" cy="873.8" r="9.5" fill="#2b114c"/>
<circle cx="1575.5" cy="902.6" r="9.5" fill="#1e1127"/>
<circle cx="1599.9" cy="901.5" r="9.5" fill="#c73959"/>
<circle cx="1619.6" cy="900.3" r="9.5" fill="#868686"/>
<circle cx="1650.3" cy="894.0" r="9.5" fill="#80257a"/>
<circle cx="1587.2" cy="914.7" r="9.5" fill="#2a1954"/>
<circle cx="1598.9" cy="917.5" r="9.5" fill="#2a1954"/>
<circle cx="1598.5" cy="917.1" r="9.5" fill="#868686"/>
<circle cx="1608.4" cy="941.6" r="9.5" fill="#868686"/>
<circle cx="1615.9" cy="957.5" r="9.5" fill="#181418"/>
<circle cx="1577.4" cy="962.9" r="9.5" fill="#67257b"/>
<circle cx="1571.4" cy="985.4" r="9.5" fill="#868686"/>
<circle cx="1647.7" cy="949.7" r="9.5" fill="#a1286e"/>
<circle cx="1643.6" cy="962.2" r="9.5" fill="#1e1127"/>
<circle cx="1657.8" cy="943.6" r="9.5" fill="#67267b"/>
<circle cx="1652.8" cy="953.2" r="9.5" fill="#c03660"/>
<circle cx="1673.4" cy="963.4" r="9.5" fill="#2b1145"/>
<circle cx="1699.3" cy="932.4" r="9.5" fill="#2a1954"/>
<circle cx="1724.4" cy="957.5" r="9.5" fill="#29114c"/>
<circle cx="1688.8" cy="979.0" r="9.5" fill="#291142"/>
<circle cx="1662.7" cy="985.1" r="9.5" fill="#442266"/>
<circle cx="1659.9" cy="988.4" r="9.5" fill="#f5a528"/>
<circle cx="1534.8" cy="1003.9" r="9.5" fill="#582273"/>
<circle cx="1270.6" cy="1032.4" r="9.5" fill="#a1286a"/>
<circle cx="1287.1" cy="1043.4" r="9.5" fill="#9a2472"/>
<circle cx="1366.6" cy="1049.6" r="9.5" fill="#3d1a5c"/>
<circle cx="1360.0" cy="1051.1" r="9.5" fill="#231133"/>
<circle cx="1452.1" cy="1063.5" r="9.5" fill="#85277c"/>
<circle cx="1454.5" cy="1053.9" r="9.5" fill="#3e216b"/>
<circle cx="1481.6" cy="1052.5" r="9.5" fill="#9a246a"/>
<circle cx="1313.6" cy="1089.3" r="9.5" fill="#802378"/>
<circle cx="1399.7" cy="1121.0" r="9.5" fill="#c83959"/>
<circle cx="1329.1" cy="1129.5" r="9.5" fill="#868686"/>
<circle cx="1319.1" cy="1129.0" r="9.5" fill="#2c1b5b"/>
<circle cx="1343.0" cy="1162.4" r="9.5" fill="#151015"/>
<circle cx="1331.3" cy="1173.3" r="9.5" fill="#502275"/>
<circle cx="1302.4" cy="1181.1" r="9.5" fill="#802378"/>
<circle cx="1393.0" cy="1174.4" r="9.5" fill="#67257b"/>
<circle cx="1532.3" cy="1024.4" r="9.5" fill="#2b114c"/>
<circle cx="1539.4" cy="1020.2" r="9.5" fill="#592275"/>
<circle cx="1577.4" cy="1033.8" r="9.5" fill="#2c1b5d"/>
<circle cx="1573.4" cy="1019.4" r="9.5" fill="#852374"/>
<circle cx="1595.4" cy="1026.5" r="9.5" fill="#a1286a"/>
<circle cx="1614.5" cy="1023.4" r="9.5" fill="#291142"/>
<circle cx="1666.3" cy="1023.4" r="9.5" fill="#c03660"/>
<circle cx="1655.2" cy="1013.5" r="9.5" fill="#67257b"/>
<circle cx="1683.7" cy="1020.3" r="9.5" fill="#f5a128"/>
<circle cx="1654.9" cy="1036.9" r="9.5" fill="#67237b"/>
<circle cx="1650.3" cy="1034.1" r="9.5" fill="#76257b"/>
<circle cx="1658.8" cy="1050.4" r="9.5" fill="#868686"/>
<circle cx="1696.8" cy="1034.1" r="9.5" fill="#291142"/>
<circle cx="1718.0" cy="1036.5" r="9.5" fill="#76257b"/>
<circle cx="1708.1" cy="1051.1" r="9.5" fill="#85237c"/>
<circle cx="1712.4" cy="1037.6" r="9.5" fill="#da583f"/>
<circle cx="1761.7" cy="1016.3" r="9.5" fill="#672674"/>
<circle cx="1541.2" cy="1061.3" r="9.5" fill="#291142"/>
<circle cx="1581.2" cy="1067.1" r="9.5" fill="#332165"/>
<circle cx="1570.6" cy="1089.3" r="9.5" fill="#868686"/>
<circle cx="1559.5" cy="1078.0" r="9.5" fill="#a92c67"/>
<circle cx="1527.6" cy="1090.5" r="9.5" fill="#67267b"/>
<circle cx="1632.7" cy="1073.0" r="9.5" fill="#868686"/>
<circle cx="1679.7" cy="1069.5" r="9.5" fill="#d0444d"/>
<circle cx="1688.0" cy="1070.2" r="9.5" fill="#da583f"/>
<circle cx="1725.7" cy="1078.0" r="9.5" fill="#231136"/>
<circle cx="1632.0" cy="1097.9" r="9.5" fill="#85237c"/>
<circle cx="1642.9" cy="1113.0" r="9.5" fill="#29113d"/>
<circle cx="1570.1" cy="1107.4" r="9.5" fill="#b83062"/>
<circle cx="1554.3" cy="1117.7" r="9.5" fill="#1e1123"/>
<circle cx="1516.4" cy="1131.9" r="9.5" fill="#2b114c"/>
<circle cx="1534.0" cy="1149.9" r="9.5" fill="#2b114c"/>
<circle cx="1540.4" cy="1165.9" r="9.5" fill="#592275"/>
<circle cx="1654.2" cy="1155.6" r="9.5" fill="#0c0a0c"/>
<circle cx="1711.6" cy="1187.2" r="9.5" fill="#2f1e63"/>
<circle cx="1304.1" cy="1209.6" r="9.5" fill="#868686"/>
<circle cx="1273.5" cy="1217.4" r="9.5" fill="#2f1e5e"/>
<circle cx="1288.8" cy="1293.1" r="9.5" fill="#76237b"/>
<circle cx="1360.5" cy="1319.5" r="9.5" fill="#85226d"/>
<path d="M1225.86 818.30 V1343.70 M1225.86 1343.70 H1787.20" fill="none" stroke="#000" stroke-width="3.45" stroke-linecap="butt"/>
<path d="M1224.13 1343.70 L1225.86 1345.42 L1225.86 1343.70 Z" fill="#000"/>
<line x1="1215.46" y1="1262.50" x2="1225.86" y2="1262.50" stroke="#2e2e2e" stroke-width="3.5"/>
<text transform="translate(1209.06 1274.90) scale(1 1.03)" font-size="34.7" text-anchor="end" font-weight="normal" fill="#1a1a1a" stroke="#1a1a1a" stroke-width="0.45">−0.2</text>
<line x1="1215.46" y1="1129.15" x2="1225.86" y2="1129.15" stroke="#2e2e2e" stroke-width="3.5"/>
<text transform="translate(1209.06 1141.55) scale(1 1.03)" font-size="34.7" text-anchor="end" font-weight="normal" fill="#1a1a1a" stroke="#1a1a1a" stroke-width="0.45">−0.1</text>
<line x1="1215.46" y1="995.80" x2="1225.86" y2="995.80" stroke="#2e2e2e" stroke-width="3.5"/>
<text transform="translate(1209.06 1008.20) scale(1 1.03)" font-size="34.7" text-anchor="end" font-weight="normal" fill="#1a1a1a" stroke="#1a1a1a" stroke-width="0.45">0.0</text>
<line x1="1215.46" y1="862.45" x2="1225.86" y2="862.45" stroke="#2e2e2e" stroke-width="3.5"/>
<text transform="translate(1209.06 874.85) scale(1 1.03)" font-size="34.7" text-anchor="end" font-weight="normal" fill="#1a1a1a" stroke="#1a1a1a" stroke-width="0.45">0.1</text>
<line x1="1241.08" y1="1343.70" x2="1241.08" y2="1353.90" stroke="#2e2e2e" stroke-width="3.5"/>
<text transform="translate(1242.68 1386.15) scale(1 1.03)" font-size="34.7" text-anchor="middle" font-weight="normal" fill="#1a1a1a" stroke="#1a1a1a" stroke-width="0.45">−0.2</text>
<line x1="1376.69" y1="1343.70" x2="1376.69" y2="1353.90" stroke="#2e2e2e" stroke-width="3.5"/>
<text transform="translate(1378.29 1386.15) scale(1 1.03)" font-size="34.7" text-anchor="middle" font-weight="normal" fill="#1a1a1a" stroke="#1a1a1a" stroke-width="0.45">−0.1</text>
<line x1="1512.30" y1="1343.70" x2="1512.30" y2="1353.90" stroke="#2e2e2e" stroke-width="3.5"/>
<text transform="translate(1513.00 1386.15) scale(1 1.03)" font-size="34.7" text-anchor="middle" font-weight="normal" fill="#1a1a1a" stroke="#1a1a1a" stroke-width="0.45">0.0</text>
<line x1="1647.91" y1="1343.70" x2="1647.91" y2="1353.90" stroke="#2e2e2e" stroke-width="3.5"/>
<text transform="translate(1648.61 1386.15) scale(1 1.03)" font-size="34.7" text-anchor="middle" font-weight="normal" fill="#1a1a1a" stroke="#1a1a1a" stroke-width="0.45">0.1</text>
<line x1="1783.52" y1="1343.70" x2="1783.52" y2="1353.90" stroke="#2e2e2e" stroke-width="3.5"/>
<text transform="translate(1784.22 1386.15) scale(1 1.03)" font-size="34.7" text-anchor="middle" font-weight="normal" fill="#1a1a1a" stroke="#1a1a1a" stroke-width="0.45">0.2</text>
<text transform="translate(401.90 673.00) scale(1 1.03)" font-size="34.5" text-anchor="middle" font-weight="normal" fill="#151515" stroke="#151515" stroke-width="0.45" xml:space="preserve" style="white-space:pre">Axis.1   [22%]</text>
<text transform="translate(31.00 341.90) rotate(-90) scale(1 1.03)" font-size="34.2" text-anchor="middle" font-weight="normal" fill="#151515" stroke="#151515" stroke-width="0.45" xml:space="preserve" style="white-space:pre">Axis.2   [13.8%]</text>
<text transform="translate(1488.40 673.50) scale(1 1.03)" font-size="34.5" text-anchor="middle" font-weight="normal" fill="#151515" stroke="#151515" stroke-width="0.45" xml:space="preserve" style="white-space:pre">Axis.1   [22%]</text>
<text transform="translate(1122.00 341.40) rotate(-90) scale(1 1.03)" font-size="34.2" text-anchor="middle" font-weight="normal" fill="#151515" stroke="#151515" stroke-width="0.45" xml:space="preserve" style="white-space:pre">Axis.2   [13.8%]</text>
<text transform="translate(397.90 1432.50) scale(1 1.03)" font-size="34.5" text-anchor="middle" font-weight="normal" fill="#151515" stroke="#151515" stroke-width="0.45" xml:space="preserve" style="white-space:pre">Axis.1   [22%]</text>
<text transform="translate(31.00 1100.90) rotate(-90) scale(1 1.03)" font-size="34.2" text-anchor="middle" font-weight="normal" fill="#151515" stroke="#151515" stroke-width="0.45" xml:space="preserve" style="white-space:pre">Axis.2   [13.8%]</text>
<text transform="translate(1488.40 1432.50) scale(1 1.03)" font-size="34.5" text-anchor="middle" font-weight="normal" fill="#151515" stroke="#151515" stroke-width="0.45" xml:space="preserve" style="white-space:pre">Axis.1   [22%]</text>
<text transform="translate(1122.00 1100.90) rotate(-90) scale(1 1.03)" font-size="34.2" text-anchor="middle" font-weight="normal" fill="#151515" stroke="#151515" stroke-width="0.45" xml:space="preserve" style="white-space:pre">Axis.2   [13.8%]</text>
<text transform="translate(-0.50 29.20) scale(0.945 1.045)" font-size="41.5" text-anchor="start" font-weight="bold" fill="#000" stroke="#000" stroke-width="0.3">A</text>
<text transform="translate(134.30 29.00) scale(1 1.035)" font-size="34.7" text-anchor="start" font-weight="bold" fill="#000" stroke="#000" stroke-width="0.3">NAFLD</text>
<text transform="translate(1090.80 29.20) scale(0.945 1.045)" font-size="41.5" text-anchor="start" font-weight="bold" fill="#000" stroke="#000" stroke-width="0.3">B</text>
<text transform="translate(1226.20 29.00) scale(0.982709 1.035)" font-size="34.7" text-anchor="start" font-weight="bold" fill="#000" stroke="#000" stroke-width="0.3">Portal</text>
<text transform="translate(-0.30 788.30) scale(0.945 1.045)" font-size="41.5" text-anchor="start" font-weight="bold" fill="#000" stroke="#000" stroke-width="0.3">C</text>
<text transform="translate(135.10 788.10) scale(0.976945 1.035)" font-size="34.7" text-anchor="start" font-weight="bold" fill="#000" stroke="#000" stroke-width="0.3">Fasted</text>
<text transform="translate(1090.80 788.10) scale(0.945 1.045)" font-size="41.5" text-anchor="start" font-weight="bold" fill="#000" stroke="#000" stroke-width="0.3">D</text>
<text transform="translate(1226.30 787.90) scale(0.98415 1.035)" font-size="34.7" text-anchor="start" font-weight="bold" fill="#000" stroke="#000" stroke-width="0.3">Post Prandial</text>
<text transform="translate(703.00 534.80) scale(1 1.03)" font-size="34.3" text-anchor="end" font-weight="normal" fill="#000" stroke="#000" stroke-width="0.45">Adonis <tspan font-style="italic">p</tspan> = 0.978</text>
<text transform="translate(1783.00 534.80) scale(1 1.03)" font-size="34.3" text-anchor="end" font-weight="normal" fill="#000" stroke="#000" stroke-width="0.45">Adonis <tspan font-style="italic">p</tspan> = 0.491</text>
<text transform="translate(702.70 1293.50) scale(1 1.03)" font-size="34.3" text-anchor="end" font-weight="normal" fill="#000" stroke="#000" stroke-width="0.45">Adonis <tspan font-style="italic">p</tspan> = 0.256</text>
<text transform="translate(1784.50 1293.50) scale(1 1.03)" font-size="34.3" text-anchor="end" font-weight="normal" fill="#000" stroke="#000" stroke-width="0.45">Adonis <tspan font-style="italic">p</tspan> = 0.192</text>
<text transform="translate(763.20 238.50) scale(1 1.03)" font-size="40.4" text-anchor="start" font-weight="normal" fill="#000" stroke="#000" stroke-width="0.45">NAFLD</text>
<circle cx="792.5" cy="292.8" r="9.5" fill="#1f8a4c"/>
<path d="M792.5 338.2 L803.6 357.6 H781.4 Z" fill="#1476bc"/>
<rect x="784.1" y="400.8" width="16.7" height="16.7" fill="#c8402f"/>
<text transform="translate(841.60 305.00) scale(1 1.03)" font-size="34.7" text-anchor="start" font-weight="normal" fill="#000" stroke="#000" stroke-width="0.45">No Steatosis</text>
<text transform="translate(841.60 363.00) scale(1 1.03)" font-size="34.7" text-anchor="start" font-weight="normal" fill="#000" stroke="#000" stroke-width="0.45">NAFL</text>
<text transform="translate(841.60 421.00) scale(1 1.03)" font-size="34.7" text-anchor="start" font-weight="normal" fill="#000" stroke="#000" stroke-width="0.45">NASH</text>
<rect x="1847.3" y="205.3" width="58.6" height="290.7" fill="url(#inf)"/>
<path d="M1847.3 211.8 h11.8 M1905.8999999999999 211.8 h-11.8" stroke="#fff" stroke-width="1.4" stroke-opacity="0.9" fill="none"/>
<text transform="translate(1925.60 229.80) scale(1 1.03)" font-size="34.7" text-anchor="start" font-weight="normal" fill="#000" stroke="#000" stroke-width="0.45">60</text>
<path d="M1847.3 306.4 h11.8 M1905.8999999999999 306.4 h-11.8" stroke="#fff" stroke-width="1.4" stroke-opacity="0.9" fill="none"/>
<text transform="translate(1925.60 319.00) scale(1 1.03)" font-size="34.7" text-anchor="start" font-weight="normal" fill="#000" stroke="#000" stroke-width="0.45">40</text>
<path d="M1847.3 400.9 h11.8 M1905.8999999999999 400.9 h-11.8" stroke="#fff" stroke-width="1.4" stroke-opacity="0.9" fill="none"/>
<text transform="translate(1925.60 413.50) scale(1 1.03)" font-size="34.7" text-anchor="start" font-weight="normal" fill="#000" stroke="#000" stroke-width="0.45">20</text>
<path d="M1847.3 495.3 h11.8 M1905.8999999999999 495.3 h-11.8" stroke="#fff" stroke-width="1.4" stroke-opacity="0.9" fill="none"/>
<text transform="translate(1925.60 499.20) scale(1 1.03)" font-size="34.7" text-anchor="start" font-weight="normal" fill="#000" stroke="#000" stroke-width="0.45">0</text>
<text transform="translate(1847.80 181.20) scale(1 1.03)" font-size="40.4" text-anchor="start" font-weight="normal" fill="#000" stroke="#000" stroke-width="0.45">Ethanol (mMM)</text>
<rect x="756.2" y="964.2" width="59" height="291.5" fill="url(#inf)"/>
<path d="M756.2 995.5 h11.8 M815.2 995.5 h-11.8" stroke="#fff" stroke-width="1.4" stroke-opacity="0.9" fill="none"/>
<text transform="translate(835.00 1008.10) scale(1 1.03)" font-size="34.7" text-anchor="start" font-weight="normal" fill="#000" stroke="#000" stroke-width="0.45">100</text>
<path d="M756.2 1065.5 h11.8 M815.2 1065.5 h-11.8" stroke="#fff" stroke-width="1.4" stroke-opacity="0.9" fill="none"/>
<text transform="translate(835.00 1078.10) scale(1 1.03)" font-size="34.7" text-anchor="start" font-weight="normal" fill="#000" stroke="#000" stroke-width="0.45">75</text>
<path d="M756.2 1135.5 h11.8 M815.2 1135.5 h-11.8" stroke="#fff" stroke-width="1.4" stroke-opacity="0.9" fill="none"/>
<text transform="translate(835.00 1148.10) scale(1 1.03)" font-size="34.7" text-anchor="start" font-weight="normal" fill="#000" stroke="#000" stroke-width="0.45">50</text>
<path d="M756.2 1205.8 h11.8 M815.2 1205.8 h-11.8" stroke="#fff" stroke-width="1.4" stroke-opacity="0.9" fill="none"/>
<text transform="translate(835.00 1218.40) scale(1 1.03)" font-size="34.7" text-anchor="start" font-weight="normal" fill="#000" stroke="#000" stroke-width="0.45">25</text>
<text transform="translate(757.00 940.00) scale(1 1.03)" font-size="40.4" text-anchor="start" font-weight="normal" fill="#000" stroke="#000" stroke-width="0.45">Ethanol (mMM)</text>
<rect x="1847.3" y="964.2" width="58.6" height="291.5" fill="url(#inf)"/>
<path d="M1847.3 991.0 h11.8 M1905.8999999999999 991.0 h-11.8" stroke="#fff" stroke-width="1.4" stroke-opacity="0.9" fill="none"/>
<text transform="translate(1925.60 1003.60) scale(1 1.03)" font-size="34.7" text-anchor="start" font-weight="normal" fill="#000" stroke="#000" stroke-width="0.45">200</text>
<path d="M1847.3 1061.2 h11.8 M1905.8999999999999 1061.2 h-11.8" stroke="#fff" stroke-width="1.4" stroke-opacity="0.9" fill="none"/>
<text transform="translate(1925.60 1073.80) scale(1 1.03)" font-size="34.7" text-anchor="start" font-weight="normal" fill="#000" stroke="#000" stroke-width="0.45">150</text>
<path d="M1847.3 1131.4 h11.8 M1905.8999999999999 1131.4 h-11.8" stroke="#fff" stroke-width="1.4" stroke-opacity="0.9" fill="none"/>
<text transform="translate(1925.60 1144.00) scale(1 1.03)" font-size="34.7" text-anchor="start" font-weight="normal" fill="#000" stroke="#000" stroke-width="0.45">100</text>
<path d="M1847.3 1201.6 h11.8 M1905.8999999999999 1201.6 h-11.8" stroke="#fff" stroke-width="1.4" stroke-opacity="0.9" fill="none"/>
<text transform="translate(1925.60 1214.20) scale(1 1.03)" font-size="34.7" text-anchor="start" font-weight="normal" fill="#000" stroke="#000" stroke-width="0.45">50</text>
<text transform="translate(1847.80 940.10) scale(1 1.03)" font-size="40.4" text-anchor="start" font-weight="normal" fill="#000" stroke="#000" stroke-width="0.45">Ethanol (mMM)</text>
</svg>
</body>
</html>
